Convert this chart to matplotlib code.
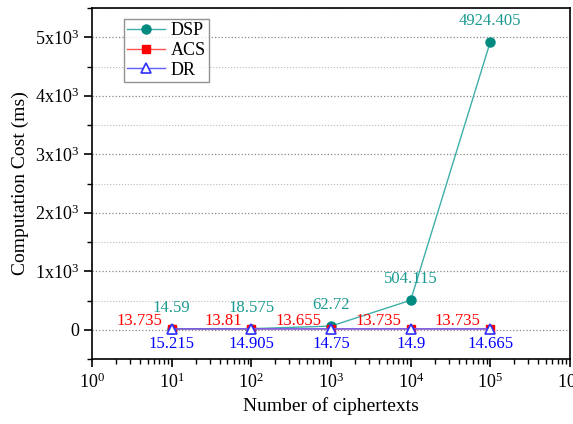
import matplotlib
matplotlib.use("Agg")
import matplotlib.pyplot as plt
from matplotlib.ticker import FixedLocator, MultipleLocator, LogLocator, NullFormatter

plt.rcParams['font.family'] = ['Liberation Serif', 'DejaVu Serif']
plt.rcParams['mathtext.fontset'] = 'custom'
plt.rcParams['mathtext.rm'] = 'Liberation Serif'
plt.rcParams['mathtext.it'] = 'Liberation Serif:italic'

# number of ciphertexts and timings (ms)
n_ciphertexts = [10, 100, 1000, 10000, 100000]
dsp = [14.59, 18.575, 62.72, 504.115, 4924.405]
acs = [13.735, 13.81, 13.655, 13.735, 13.735]
dr = [15.215, 14.905, 14.75, 14.9, 14.665]
dsp_labels = ['14.59', '18.575', '62.72', '504.115', '4924.405']
acs_labels = ['13.735', '13.81', '13.655', '13.735', '13.735']
dr_labels = ['15.215', '14.905', '14.75', '14.9', '14.665']

teal = '#008A80'
fig = plt.figure(figsize=(5.73, 4.24), dpi=100)
ax = fig.add_axes([92 / 573, 65 / 424, 478 / 573, 351 / 424])

ax.plot(n_ciphertexts, dsp, color='#3FAFAA', lw=1, marker='o', ms=6.5,
        mfc=teal, mec=teal, label='DSP', zorder=3)
ax.plot(n_ciphertexts, acs, color='#FF5050', lw=1, marker='s', ms=5.5,
        mfc='red', mec='red', label='ACS', zorder=4)
ax.plot(n_ciphertexts, dr, color='#6060FF', lw=1, marker='^', ms=7.5,
        mfc='white', mec='#3030FF', mew=1.2, label='DR', zorder=5)

for x, y, s in zip(n_ciphertexts, dsp, dsp_labels):
    ax.annotate(s, (x, y), xytext=(0, 15), textcoords='offset points',
                ha='center', va='center', color='#1A9A90', fontsize=12)
for x, y, s in zip(n_ciphertexts, acs, acs_labels):
    ax.annotate(s, (x, y), xytext=(-7, 6), textcoords='offset points',
                ha='right', va='center', color='red', fontsize=12)
for x, y, s in zip(n_ciphertexts, dr, dr_labels):
    ax.annotate(s, (x, y), xytext=(0, -11), textcoords='offset points',
                ha='center', va='center', color='blue', fontsize=12)

ax.set_xscale('log')
ax.set_xlim(1, 1e6)
ax.set_ylim(-500, 5500)
ax.xaxis.set_major_locator(FixedLocator([1, 10, 100, 1e3, 1e4, 1e5, 1e6]))
ax.set_xticklabels(['10$^{%d}$' % k for k in range(7)])
ax.xaxis.set_minor_locator(LogLocator(base=10, subs=range(2, 10), numticks=20))
ax.xaxis.set_minor_formatter(NullFormatter())

ax.yaxis.set_major_locator(FixedLocator([0, 1000, 2000, 3000, 4000, 5000]))
ax.set_yticklabels(['0'] + ['%dx10$^{3}$' % k for k in range(1, 6)])
ax.yaxis.set_minor_locator(MultipleLocator(500))

ax.grid(True, which='major', axis='y', ls=':', color='#888888', lw=0.9)
ax.grid(True, which='minor', axis='y', ls=':', color='#BBBBBB', lw=0.8)

ax.tick_params(which='major', direction='out', length=6, width=1.2,
               labelsize=13, top=False, right=False)
ax.tick_params(which='minor', direction='out', length=3.5, width=1,
               top=False, right=False)
for sp in ax.spines.values():
    sp.set_linewidth(1.2)

ax.set_xlabel('Number of ciphertexts', fontsize=14, labelpad=4)
ax.set_ylabel('Computation Cost (ms)', fontsize=14, labelpad=4)

leg = ax.legend(loc='upper left', bbox_to_anchor=(0.055, 0.985), fontsize=13,
                frameon=True, fancybox=False, edgecolor='#777777',
                handlelength=2.1, handletextpad=0.3, borderpad=0.2,
                labelspacing=0.15, borderaxespad=0.3)
leg.get_frame().set_linewidth(1)

fig.savefig('out.png', dpi=100)
